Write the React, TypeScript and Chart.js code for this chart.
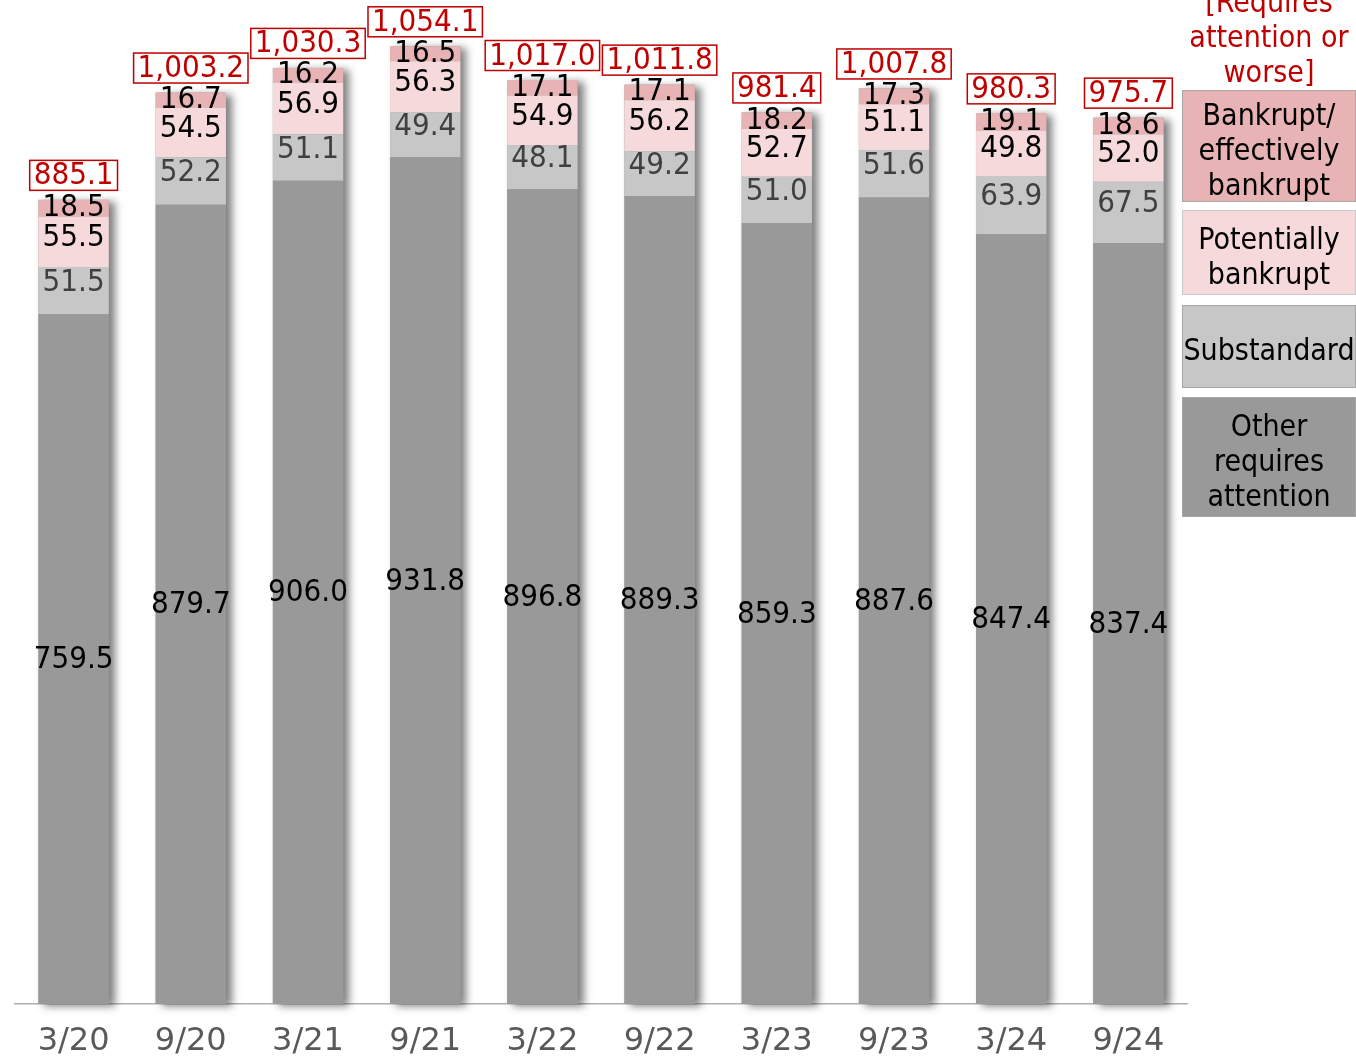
import React, { useEffect, useRef } from "react";
import { Chart, registerables } from "chart.js";

Chart.register(...registerables);

// Half-year periods
const periods = ["3/20", "9/20", "3/21", "9/21", "3/22", "9/22", "3/23", "9/23", "3/24", "9/24"];

// Loan balances by category (stacked bottom to top)
const otherAttention = [759.5, 879.7, 906.0, 931.8, 896.8, 889.3, 859.3, 887.6, 847.4, 837.4];
const substandard = [51.5, 52.2, 51.1, 49.4, 48.1, 49.2, 51.0, 51.6, 63.9, 67.5];
const potentiallyBankrupt = [55.5, 54.5, 56.9, 56.3, 54.9, 56.2, 52.7, 51.1, 49.8, 52.0];
const bankrupt = [18.5, 16.7, 16.2, 16.5, 17.1, 17.1, 18.2, 17.3, 19.1, 18.6];

// Total of "requires attention or worse"
const totals = [885.1, 1003.2, 1030.3, 1054.1, 1017.0, 1011.8, 981.4, 1007.8, 980.3, 975.7];

const FONT = "'DejaVu Sans Condensed', 'DejaVu Sans', Verdana, sans-serif";
const AXIS_FONT = "'DejaVu Sans', Verdana, sans-serif";

const COLORS = {
  other: "#999999",
  substandard: "#c7c7c7",
  potentially: "#f6d9db",
  bankrupt: "#e8b3b5",
  red: "#c00000",
};

// Per-series label colour and vertical nudge (px) inside its segment
const segmentLabelStyle = [
  { color: "#000000", dy: 0 },
  { color: "#404040", dy: -9 },
  { color: "#000000", dy: -5 },
  { color: "#000000", dy: -1 },
];

const barShadowPlugin = {
  id: "barShadow",
  beforeDatasetsDraw(chart: any) {
    const ctx = chart.ctx;
    const n = chart.data.datasets.length;
    const bottomMeta = chart.getDatasetMeta(0);
    const topMeta = chart.getDatasetMeta(n - 1);
    ctx.save();
    ctx.shadowColor = "rgba(0,0,0,0.5)";
    ctx.shadowBlur = 8;
    ctx.shadowOffsetX = 6;
    ctx.shadowOffsetY = 2;
    ctx.fillStyle = COLORS.other;
    topMeta.data.forEach((el: any, j: number) => {
      const base = bottomMeta.data[j].base;
      const w = el.width;
      ctx.fillRect(el.x - w / 2, el.y, w, base - el.y);
    });
    ctx.restore();
  },
};

const labelsPlugin = {
  id: "segmentLabels",
  afterDatasetsDraw(chart: any) {
    const ctx = chart.ctx;
    ctx.save();
    ctx.font = `31px ${FONT}`;
    ctx.textAlign = "center";
    ctx.textBaseline = "middle";
    chart.data.datasets.forEach((ds: any, i: number) => {
      const meta = chart.getDatasetMeta(i);
      const st = segmentLabelStyle[i];
      meta.data.forEach((el: any, j: number) => {
        const v = ds.data[j] as number;
        const cy = (el.y + el.base) / 2 + st.dy;
        ctx.fillStyle = st.color;
        ctx.fillText(v.toFixed(1), el.x, cy + 1);
      });
    });

    // Totals in red boxes above each bar
    const topMeta = chart.getDatasetMeta(chart.data.datasets.length - 1);
    topMeta.data.forEach((el: any, j: number) => {
      const txt = totals[j].toLocaleString("en-US", {
        minimumFractionDigits: 1,
        maximumFractionDigits: 1,
      });
      const cy = el.y - 24.5;
      const w = ctx.measureText(txt).width + 8;
      const h = 30;
      ctx.fillStyle = "#ffffff";
      ctx.fillRect(el.x - w / 2, cy - h / 2, w, h);
      ctx.strokeStyle = COLORS.red;
      ctx.lineWidth = 1.5;
      ctx.strokeRect(el.x - w / 2, cy - h / 2, w, h);
      ctx.fillStyle = COLORS.red;
      ctx.fillText(txt, el.x, cy + 1);
    });
    ctx.restore();
  },
};

const legendItems = [
  { lines: ["Bankrupt/", "effectively", "bankrupt"], bg: COLORS.bankrupt, top: 90, height: 112, border: "#a6a6a6" },
  { lines: ["Potentially", "bankrupt"], bg: COLORS.potentially, top: 210, height: 85, border: "#c9c9c9" },
  { lines: ["Substandard"], bg: COLORS.substandard, top: 305, height: 83, border: "#a6a6a6" },
  { lines: ["Other", "requires", "attention"], bg: COLORS.other, top: 397, height: 120, border: "#a6a6a6" },
];

export default function App() {
  const canvasRef = useRef<HTMLCanvasElement | null>(null);

  useEffect(() => {
    if (!canvasRef.current) return;
    const chart = new Chart(canvasRef.current, {
      type: "bar",
      data: {
        labels: periods,
        datasets: [
          { label: "Other requires attention", data: otherAttention, backgroundColor: COLORS.other },
          { label: "Substandard", data: substandard, backgroundColor: COLORS.substandard },
          { label: "Potentially bankrupt", data: potentiallyBankrupt, backgroundColor: COLORS.potentially },
          { label: "Bankrupt/effectively bankrupt", data: bankrupt, backgroundColor: COLORS.bankrupt },
        ],
      },
      options: {
        responsive: false,
        animation: false,
        layout: { padding: { top: 4.5, left: 15, right: 169, bottom: 0 } },
        datasets: {
          bar: { categoryPercentage: 1, barPercentage: 0.6, borderWidth: 0 },
        },
        plugins: {
          legend: { display: false },
          tooltip: { enabled: false },
        },
        scales: {
          x: {
            stacked: true,
            grid: { display: false, drawTicks: false },
            border: { display: true, color: "#b0b0b0", width: 1.5 },
            ticks: {
              color: "#595959",
              font: { family: AXIS_FONT, size: 32 },
              padding: 18,
              maxRotation: 0,
            },
            afterFit(scale: any) {
              scale.height = 55;
            },
          },
          y: {
            stacked: true,
            display: false,
            min: 0,
            max: 1100,
          },
        },
      },
      plugins: [barShadowPlugin, labelsPlugin],
    });
    return () => chart.destroy();
  }, []);

  return (
    <div style={{ position: "absolute", left: 0, top: 0, width: 1356, height: 1059, overflow: "hidden", background: "#ffffff", fontFamily: FONT }}>
      <canvas ref={canvasRef} width={1356} height={1059} style={{ position: "absolute", left: 0, top: 0 }} />
      <div
        style={{
          position: "absolute",
          left: 1182,
          top: -16.5,
          width: 174,
          textAlign: "center",
          color: COLORS.red,
          fontSize: 30,
          lineHeight: "35px",
          whiteSpace: "nowrap",
        }}
      >
        [Requires
        <br />
        attention or
        <br />
        worse]
      </div>
      {legendItems.map((it) => (
        <div
          key={it.lines.join(" ")}
          style={{
            position: "absolute",
            left: 1182,
            top: it.top,
            width: 174,
            height: it.height,
            boxSizing: "border-box",
            background: it.bg,
            border: `1px solid ${it.border}`,
            display: "flex",
            flexDirection: "column",
            justifyContent: "center",
            alignItems: "center",
            paddingTop: 6,
            color: "#000000",
            fontSize: 30,
            lineHeight: "35px",
            whiteSpace: "nowrap",
          }}
        >
          {it.lines.map((l) => (
            <div key={l}>{l}</div>
          ))}
        </div>
      ))}
    </div>
  );
}
